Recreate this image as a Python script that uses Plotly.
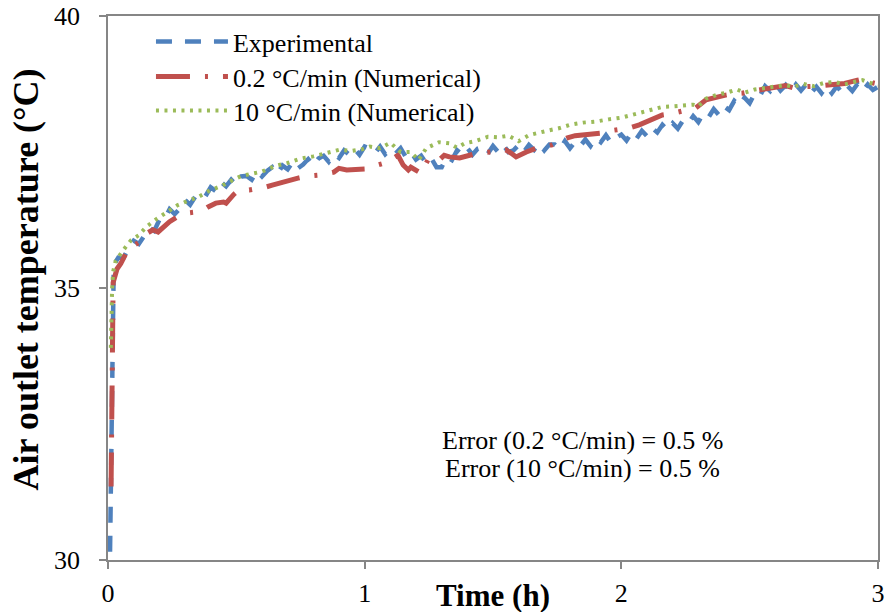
import plotly.graph_objects as go

# ---------------- data ----------------
exp_time = [0.008, 0.009, 0.010, 0.011, 0.012, 0.013, 0.014, 0.015, 0.017, 0.019, 0.022, 0.026,
            0.04, 0.06, 0.08, 0.10, 0.12, 0.14, 0.16, 0.18, 0.20, 0.22,
            0.24, 0.26, 0.28, 0.30, 0.32, 0.34, 0.36, 0.38, 0.40, 0.42,
            0.44, 0.46, 0.48, 0.50, 0.52, 0.54, 0.56, 0.58, 0.60, 0.62,
            0.64, 0.66, 0.68, 0.70, 0.72, 0.74, 0.76, 0.78, 0.80, 0.82,
            0.84, 0.86, 0.88, 0.90, 0.92, 0.94, 0.96, 0.98, 1.00, 1.02,
            1.04, 1.06, 1.08, 1.10, 1.12, 1.14, 1.16, 1.18, 1.20, 1.22,
            1.24, 1.26, 1.28, 1.30, 1.32, 1.34, 1.36, 1.38, 1.40, 1.42,
            1.44, 1.46, 1.48, 1.50, 1.52, 1.54, 1.56, 1.58, 1.60, 1.62,
            1.64, 1.66, 1.68, 1.70, 1.72, 1.74, 1.76, 1.78, 1.80, 1.82,
            1.84, 1.86, 1.88, 1.90, 1.92, 1.94, 1.96, 1.98, 2.00, 2.02,
            2.04, 2.06, 2.08, 2.10, 2.12, 2.14, 2.16, 2.18, 2.20, 2.22,
            2.24, 2.26, 2.28, 2.30, 2.32, 2.34, 2.36, 2.38, 2.40, 2.42,
            2.44, 2.46, 2.48, 2.50, 2.52, 2.54, 2.56, 2.58, 2.60, 2.62,
            2.64, 2.66, 2.68, 2.70, 2.72, 2.74, 2.76, 2.78, 2.80, 2.82,
            2.84, 2.86, 2.88, 2.90, 2.92, 2.94, 2.96, 2.98, 3.00]
exp_temp = [30.15, 30.6, 31.3, 31.9, 32.5, 33.1, 33.6, 34.1, 34.6, 35.0, 35.3, 35.45,
            35.56, 35.55, 35.74, 35.87, 35.81, 35.95, 36.11, 36.05, 36.25, 36.26,
            36.45, 36.36, 36.46, 36.62, 36.53, 36.68, 36.75, 36.69, 36.85, 36.78,
            36.95, 36.87, 36.99, 36.89, 37.05, 37.06, 36.99, 37.15, 37.05, 37.15,
            37.22, 37.10, 37.25, 37.18, 37.32, 37.20, 37.27, 37.37, 37.25, 37.38,
            37.43, 37.32, 37.46, 37.39, 37.53, 37.45, 37.56, 37.45, 37.60, 37.56,
            37.48, 37.60, 37.46, 37.55, 37.47, 37.57, 37.41, 37.50, 37.36, 37.43,
            37.29, 37.38, 37.22, 37.22, 37.41, 37.35, 37.53, 37.45, 37.57, 37.45,
            37.56, 37.59, 37.47, 37.61, 37.50, 37.63, 37.50, 37.53, 37.63, 37.50,
            37.63, 37.54, 37.66, 37.53, 37.64, 37.64, 37.55, 37.70, 37.57, 37.69,
            37.61, 37.73, 37.61, 37.76, 37.68, 37.81, 37.67, 37.76, 37.82, 37.71,
            37.86, 37.75, 37.89, 37.79, 37.94, 37.86, 38.00, 37.90, 38.03, 37.93,
            38.08, 38.02, 38.16, 38.05, 38.21, 38.14, 38.29, 38.18, 38.34, 38.27,
            38.44, 38.35, 38.50, 38.40, 38.58, 38.53, 38.71, 38.62, 38.76, 38.63,
            38.73, 38.60, 38.74, 38.63, 38.74, 38.59, 38.70, 38.58, 38.71, 38.58,
            38.71, 38.59, 38.72, 38.62, 38.75, 38.62, 38.74, 38.64, 38.70]

num02_time = [0.012, 0.013, 0.014, 0.015, 0.016, 0.017, 0.018, 0.020, 0.035, 0.05, 0.08, 0.11,
              0.136, 0.15, 0.175, 0.195, 0.214, 0.24, 0.27, 0.31, 0.35, 0.37, 0.39, 0.42, 0.45,
              0.46, 0.49, 0.51, 0.55, 0.58, 0.61, 0.64, 0.68, 0.72, 0.74, 0.78, 0.83, 0.88, 0.90,
              0.93, 0.97, 1.01, 1.05, 1.08, 1.11, 1.13, 1.15, 1.17, 1.18, 1.22, 1.25, 1.29, 1.31,
              1.33, 1.37, 1.41, 1.44, 1.49, 1.52, 1.55, 1.57, 1.59, 1.63, 1.67, 1.73, 1.76, 1.79,
              1.82, 1.85, 1.89, 1.93, 1.97, 2.00, 2.03, 2.07, 2.11, 2.16, 2.19, 2.22, 2.26, 2.29,
              2.33, 2.37, 2.41, 2.44, 2.47, 2.51, 2.56, 2.61, 2.64, 2.67, 2.70, 2.76, 2.82, 2.87,
              2.92, 2.94, 2.96, 2.98, 3.00]
num02_temp = [31.35, 31.9, 32.5, 33.0, 33.6, 34.1, 34.6, 35.1, 35.35, 35.45, 35.73, 35.8,
              35.88, 36.0, 36.07, 36.03, 36.12, 36.22, 36.31, 36.38, 36.4, 36.43, 36.49, 36.56, 36.58,
              36.56, 36.72, 36.8, 36.8, 36.82, 36.85, 36.89, 36.95, 36.99, 37.02, 37.06, 37.08, 37.13, 37.2,
              37.17, 37.17, 37.19, 37.26, 37.3, 37.38, 37.44, 37.26, 37.17, 37.22, 37.11, 37.39, 37.35, 37.44,
              37.41, 37.39, 37.45, 37.48, 37.5, 37.52, 37.54, 37.48, 37.41, 37.5, 37.57, 37.63, 37.7, 37.76,
              37.8, 37.81, 37.83, 37.85, 37.9, 37.92, 37.94, 38.0, 38.09, 38.18, 38.2, 38.24, 38.27, 38.31,
              38.46, 38.51, 38.55, 38.57, 38.58, 38.62, 38.66, 38.68, 38.72, 38.68, 38.7, 38.71, 38.73, 38.76,
              38.82, 38.85, 38.86, 38.77, 38.75]

num10_time = [0.011, 0.013, 0.016, 0.020, 0.03, 0.06, 0.09, 0.12, 0.15, 0.19, 0.23, 0.27, 0.31,
              0.35, 0.40, 0.44, 0.48, 0.52, 0.56, 0.60, 0.65, 0.70, 0.75, 0.80, 0.85, 0.90, 0.95,
              0.99, 1.02, 1.06, 1.10, 1.14, 1.18, 1.21, 1.24, 1.29, 1.33, 1.36, 1.39, 1.43, 1.48,
              1.52, 1.56, 1.60, 1.64, 1.68, 1.72, 1.76, 1.80, 1.85, 1.90, 1.95, 2.00, 2.04, 2.08,
              2.12, 2.16, 2.20, 2.24, 2.28, 2.30, 2.33, 2.37, 2.41, 2.45, 2.48, 2.52, 2.56, 2.60,
              2.64, 2.67, 2.71, 2.75, 2.79, 2.83, 2.87, 2.91, 2.94, 2.97, 3.00]
num10_temp = [33.9, 34.5, 35.0, 35.3, 35.5, 35.7, 35.88, 35.97, 36.13, 36.27, 36.4, 36.52, 36.6,
              36.67, 36.8, 36.87, 36.97, 37.06, 37.1, 37.14, 37.24, 37.3, 37.38, 37.42, 37.48, 37.54, 37.52,
              37.55, 37.6, 37.57, 37.67, 37.5, 37.5, 37.35, 37.57, 37.68, 37.66, 37.58, 37.66, 37.7, 37.78,
              37.77, 37.8, 37.7, 37.81, 37.86, 37.9, 37.94, 38.0, 38.04, 38.06, 38.1, 38.13, 38.18, 38.23,
              38.27, 38.33, 38.34, 38.36, 38.37, 38.34, 38.48, 38.55, 38.59, 38.65, 38.59, 38.65, 38.68, 38.7,
              38.73, 38.7, 38.75, 38.71, 38.77, 38.79, 38.74, 38.79, 38.82, 38.77, 38.73]

x_ticks = [0, 1, 2, 3]
y_ticks = [30, 35, 40]
series_names = ["Experimental", "0.2 °C/min (Numerical)", "10 °C/min (Numerical)"]
error_lines = ["Error (0.2 °C/min) = 0.5 %", "Error (10 °C/min) = 0.5 %"]
x_title = "Time (h)"
y_title = "Air outlet temperature (°C)"

# ---------------- styling ----------------
FONT = "Liberation Serif, Times New Roman, serif"
AXIS_GREY = "#868686"
BLUE, RED, GREEN = "#4F81BD", "#C0504D", "#9BBB59"

fig = go.Figure()
fig.add_trace(go.Scatter(x=exp_time, y=exp_temp, mode="lines", name=series_names[0],
                         legend="legend",
                         line=dict(color=BLUE, width=4.5, dash="16px,13px")))
fig.add_trace(go.Scatter(x=num02_time, y=num02_temp, mode="lines", name=series_names[1],
                         legend="legend2",
                         line=dict(color=RED, width=5, dash="34px,15px,3px,15px")))
fig.add_trace(go.Scatter(x=num10_time, y=num10_temp, mode="lines", name=series_names[2],
                         legend="legend3",
                         line=dict(color=GREEN, width=4, dash="3px,5.5px")))

axis_common = dict(showline=True, linecolor=AXIS_GREY, linewidth=1.5, mirror=True,
                   ticks="outside", ticklen=7, tickwidth=1.5, tickcolor=AXIS_GREY,
                   showgrid=False, zeroline=False, automargin=False,
                   tickfont=dict(family=FONT, size=26, color="black"))

fig.update_xaxes(range=[0, 3], tickvals=x_ticks, ticklabelstandoff=2, **axis_common)
fig.update_yaxes(range=[30, 40], tickvals=y_ticks, ticklabelstandoff=14, **axis_common)

fig.add_annotation(text="<b>%s</b>" % x_title, xref="paper", yref="paper", x=0.5, y=-0.066,
                   xanchor="center", yanchor="middle", showarrow=False,
                   font=dict(family=FONT, size=31, color="black"))
fig.add_annotation(text="<b>%s</b>" % y_title, xref="paper", yref="paper", x=-0.107, y=0.515,
                   xanchor="center", yanchor="middle", showarrow=False, textangle=-90,
                   font=dict(family=FONT, size=36, color="black"))
for line_text, ypos in zip(error_lines, [0.2188, 0.169]):
    fig.add_annotation(text=line_text, xref="paper", yref="paper", x=0.6156, y=ypos,
                       xanchor="center", yanchor="middle", showarrow=False,
                       font=dict(family=FONT, size=26, color="black"))

legend_common = dict(xanchor="left", yanchor="top", bgcolor="rgba(0,0,0,0)",
                     font=dict(family=FONT, size=26, color="black"), itemwidth=72)
fig.update_layout(
    template="none",
    width=885, height=612,
    margin=dict(l=108, r=7, t=16, b=52),
    paper_bgcolor="white", plot_bgcolor="white",
    showlegend=True,
    legend=dict(x=0.0558, y=0.9963, **legend_common),
    legend2=dict(x=0.0558, y=0.932, **legend_common),
    legend3=dict(x=0.0558, y=0.8695, **legend_common),
)

fig.write_html("out.html")
